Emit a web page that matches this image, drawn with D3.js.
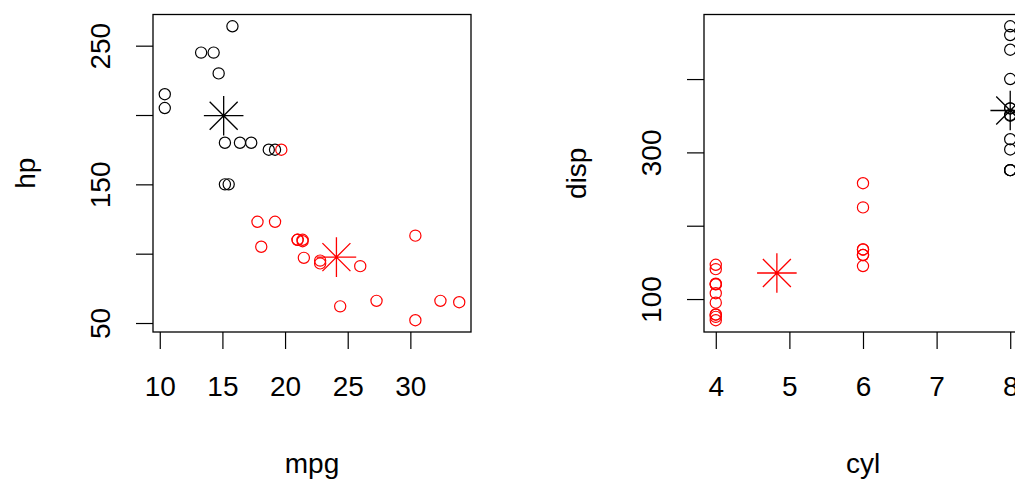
<!DOCTYPE html>
<html lang="en">
<head>
    <meta charset="UTF-8">
    <title>mtcars k-means clusters</title>
    <script src="https://d3js.org/d3.v7.min.js"></script>
    <style>
        body { margin: 0; background: #fff; }
        text { font-family: "Liberation Sans", Arial, sans-serif; fill: #000; }
    </style>
</head>
<body>
    <div id="chart"></div>
    <script>
        // mtcars (Maserati Bora left out), cluster 1 = red, 2 = black
        const mpg  = [21, 21, 22.8, 21.4, 18.7, 18.1, 14.3, 24.4, 22.8, 19.2, 17.8, 16.4, 17.3, 15.2, 10.4, 10.4,
                      14.7, 32.4, 30.4, 33.9, 21.5, 15.5, 15.2, 13.3, 19.2, 27.3, 26, 30.4, 15.8, 19.7, 21.4];
        const cyl  = [6, 6, 4, 6, 8, 6, 8, 4, 4, 6, 6, 8, 8, 8, 8, 8,
                      8, 4, 4, 4, 4, 8, 8, 8, 8, 4, 4, 4, 8, 6, 4];
        const disp = [160, 160, 108, 258, 360, 225, 360, 146.7, 140.8, 167.6, 167.6, 275.8, 275.8, 275.8, 472, 460,
                      440, 78.7, 75.7, 71.1, 120.1, 318, 304, 350, 400, 79, 120.3, 95.1, 351, 145, 121];
        const hp   = [110, 110, 93, 110, 175, 105, 245, 62, 95, 123, 123, 180, 180, 180, 205, 215,
                      230, 66, 52, 65, 97, 150, 150, 245, 175, 66, 91, 113, 264, 175, 109];
        const cluster = [1, 1, 1, 1, 2, 1, 2, 1, 1, 1, 1, 2, 2, 2, 2, 2,
                         2, 1, 1, 1, 1, 2, 2, 2, 2, 1, 1, 1, 2, 1, 1];

        // cluster centres
        const centerMpg  = [24.1, 15.1];
        const centerHp   = [97.5, 199.5];
        const centerCyl  = [4.83, 8];
        const centerDisp = [135.5, 357.1];

        // ticks
        const mpgTicks = [10, 15, 20, 25, 30];
        const hpTicks = [50, 100, 150, 200, 250];
        const hpLabels = [50, 150, 250];
        const cylTicks = [4, 5, 6, 7, 8];
        const dispTicks = [100, 200, 300, 400];
        const dispLabels = [100, 300];

        const clusterColor = ["#ff0000", "#000000"];

        const width = 1015, height = 484;
        const svg = d3.select("#chart").append("svg")
            .attr("width", width)
            .attr("height", height);

        // R style range: data extent padded 4% each side
        function rDomain(vals) {
            const [lo, hi] = d3.extent(vals);
            const pad = (hi - lo) * 0.04;
            return [lo - pad, hi + pad];
        }

        function panel(opts) {
            const {left, right, top, bottom, xs, ys, cx, cy, xTicks, yTicks, yLabels, xName, yName} = opts;

            const x = d3.scaleLinear().domain(rDomain(xs)).range([left, right]);
            const y = d3.scaleLinear().domain(rDomain(ys)).range([bottom, top]);

            const g = svg.append("g");

            // x axis
            const xa = g.append("g")
                .attr("transform", `translate(0,${bottom})`)
                .call(d3.axisBottom(x).tickValues(xTicks).tickSize(17).tickPadding(27).tickFormat(d3.format("d")));
            xa.select(".domain").remove();
            xa.selectAll("line").attr("stroke", "#000").attr("stroke-width", 1.2);
            xa.selectAll("text").attr("font-size", 28).attr("fill", "#000")
                .attr("font-family", "Liberation Sans, Arial, sans-serif");

            // y axis
            const ya = g.append("g")
                .attr("transform", `translate(${left},0)`)
                .call(d3.axisLeft(y).tickValues(yTicks).tickSize(17).tickFormat(d => yLabels.includes(d) ? d : ""));
            ya.select(".domain").remove();
            ya.selectAll("line").attr("stroke", "#000").attr("stroke-width", 1.2);
            ya.selectAll("text")
                .attr("font-size", 28).attr("fill", "#000")
                .attr("font-family", "Liberation Sans, Arial, sans-serif")
                .attr("x", null).attr("dy", null)
                .attr("text-anchor", "middle")
                .attr("transform", "translate(-43,0) rotate(-90)");

            // axis titles
            g.append("text")
                .attr("x", (left + right) / 2)
                .attr("y", 473)
                .attr("text-anchor", "middle")
                .attr("font-size", 28)
                .text(xName);
            g.append("text")
                .attr("transform", `translate(${left - 118},${(top + bottom) / 2}) rotate(-90)`)
                .attr("text-anchor", "middle")
                .attr("font-size", 28)
                .text(yName);

            // points
            g.append("g").selectAll("circle")
                .data(d3.range(xs.length))
                .join("circle")
                .attr("cx", i => x(xs[i]))
                .attr("cy", i => y(ys[i]))
                .attr("r", 5.6)
                .attr("fill", "none")
                .attr("stroke", i => clusterColor[cluster[i] - 1])
                .attr("stroke-width", 1.2);

            // centres, pch = 8
            const r = 14, rp = r * Math.SQRT2;
            g.append("g").selectAll("path")
                .data(d3.range(cx.length))
                .join("path")
                .attr("d", i => {
                    const px = x(cx[i]), py = y(cy[i]);
                    return `M${px - rp},${py}H${px + rp}M${px},${py - rp}V${py + rp}` +
                           `M${px - r},${py - r}L${px + r},${py + r}M${px - r},${py + r}L${px + r},${py - r}`;
                })
                .attr("fill", "none")
                .attr("stroke", i => clusterColor[i])
                .attr("stroke-width", 1.3);

            // box
            g.append("rect")
                .attr("x", left).attr("y", top)
                .attr("width", right - left).attr("height", bottom - top)
                .attr("fill", "none")
                .attr("stroke", "#000")
                .attr("stroke-width", 1.3);
        }

        panel({left: 153, right: 471, top: 14.5, bottom: 332,
               xs: mpg, ys: hp, cx: centerMpg, cy: centerHp,
               xTicks: mpgTicks, yTicks: hpTicks, yLabels: hpLabels, xName: "mpg", yName: "hp"});

        panel({left: 704, right: 1022, top: 14.5, bottom: 332,
               xs: cyl, ys: disp, cx: centerCyl, cy: centerDisp,
               xTicks: cylTicks, yTicks: dispTicks, yLabels: dispLabels, xName: "cyl", yName: "disp"});
    </script>
</body>
</html>
